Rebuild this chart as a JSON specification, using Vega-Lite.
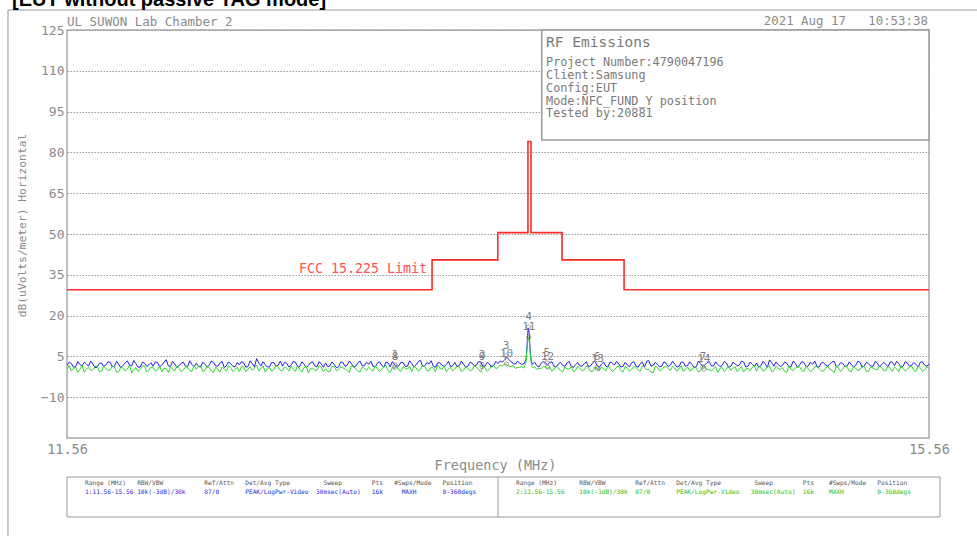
{
  "$schema": "https://vega.github.io/schema/vega-lite/v6.json",
  "width": 862,
  "height": 408,
  "autosize": {"type": "none"},
  "padding": {"left": 67, "top": 30, "right": 48, "bottom": 98},
  "background": "white",
  "title": {"text": "[EUT without passive TAG mode]", "anchor": "start", "frame": "group", "offset": 0, "dx": -55, "fontSize": 20, "font": "Liberation Sans", "fontWeight": "bold", "color": "#000000"},
  "config": {"view": {"stroke": "#aaaaaa", "strokeWidth": 1.5}, "font": "DejaVu Sans Mono"},
  "datasets": {
    "trace": [
      {"f":11.56,"b":1.6,"g":0.4},{"f":11.58,"b":2.4,"g":-0.3},{"f":11.60,"b":1.2,"g":1.1},{"f":11.62,"b":2.0,"g":0.2},{"f":11.64,"b":2.8,"g":-0.8},{"f":11.66,"b":1.4,"g":0.9},{"f":11.68,"b":2.2,"g":0.1},{"f":11.70,"b":1.0,"g":1.5},{"f":11.72,"b":2.6,"g":-0.4},{"f":11.74,"b":1.8,"g":0.6},
      {"f":11.76,"b":2.9,"g":0.0},{"f":11.78,"b":1.3,"g":1.2},{"f":11.80,"b":2.1,"g":-0.6},{"f":11.82,"b":1.7,"g":0.7},{"f":11.84,"b":3.4,"g":0.3},{"f":11.86,"b":1.5,"g":-1.0},{"f":11.88,"b":2.3,"g":0.8},{"f":11.90,"b":1.1,"g":0.2},{"f":11.92,"b":2.5,"g":1.4},{"f":11.94,"b":1.9,"g":-0.2},
      {"f":11.96,"b":1.4,"g":0.9},{"f":11.98,"b":2.7,"g":0.1},{"f":12.00,"b":1.8,"g":-0.7},{"f":12.02,"b":3.8,"g":0.5},{"f":12.04,"b":1.2,"g":1.3},{"f":12.06,"b":2.2,"g":-0.3},{"f":12.08,"b":1.6,"g":0.6},{"f":12.10,"b":2.9,"g":0.0},{"f":12.12,"b":1.3,"g":1.0},{"f":12.14,"b":2.0,"g":-0.5},
      {"f":12.16,"b":2.5,"g":0.3},{"f":12.18,"b":1.1,"g":1.6},{"f":12.20,"b":2.1,"g":-0.2},{"f":12.22,"b":1.7,"g":0.8},{"f":12.24,"b":2.8,"g":-0.9},{"f":12.26,"b":1.4,"g":0.4},{"f":12.28,"b":3.1,"g":1.1},{"f":12.30,"b":1.6,"g":-0.4},{"f":12.32,"b":2.2,"g":0.7},{"f":12.34,"b":1.2,"g":0.2},
      {"f":12.36,"b":1.9,"g":-0.6},{"f":12.38,"b":2.6,"g":1.0},{"f":12.40,"b":1.3,"g":0.3},{"f":12.42,"b":2.3,"g":-0.1},{"f":12.44,"b":4.2,"g":1.8},{"f":12.46,"b":1.5,"g":0.5},{"f":12.48,"b":2.0,"g":-0.8},{"f":12.50,"b":1.2,"g":0.9},{"f":12.52,"b":2.7,"g":0.1},{"f":12.54,"b":1.8,"g":1.2},
      {"f":12.56,"b":1.4,"g":-0.3},{"f":12.58,"b":2.4,"g":0.6},{"f":12.60,"b":1.7,"g":1.4},{"f":12.62,"b":2.9,"g":-0.5},{"f":12.64,"b":1.3,"g":0.2},{"f":12.66,"b":2.1,"g":0.9},{"f":12.68,"b":1.6,"g":-1.1},{"f":12.70,"b":3.0,"g":0.7},{"f":12.72,"b":1.2,"g":0.0},{"f":12.74,"b":2.2,"g":1.1},
      {"f":12.76,"b":2.6,"g":0.4},{"f":12.78,"b":1.5,"g":-0.6},{"f":12.80,"b":2.0,"g":1.3},{"f":12.82,"b":1.1,"g":0.1},{"f":12.84,"b":2.8,"g":0.8},{"f":12.86,"b":1.7,"g":-0.2},{"f":12.88,"b":2.3,"g":1.5},{"f":12.90,"b":1.4,"g":0.3},{"f":12.92,"b":3.3,"g":-0.7},{"f":12.94,"b":1.6,"g":0.6},
      {"f":12.96,"b":2.1,"g":1.0},{"f":12.98,"b":1.3,"g":-0.4},{"f":13.00,"b":2.5,"g":0.5},{"f":13.02,"b":1.8,"g":0.2},{"f":13.04,"b":2.9,"g":1.7},{"f":13.06,"b":1.2,"g":-0.9},{"f":13.08,"b":2.0,"g":0.6},{"f":13.10,"b":1.6,"g":0.0},{"f":13.12,"b":2.7,"g":1.2},{"f":13.14,"b":1.4,"g":0.3},
      {"f":13.16,"b":2.3,"g":-0.5},{"f":13.18,"b":1.9,"g":0.8},{"f":13.20,"b":3.6,"g":0.1},{"f":13.22,"b":1.5,"g":1.4},{"f":13.24,"b":2.2,"g":-0.3},{"f":13.26,"b":1.3,"g":0.7},{"f":13.28,"b":2.6,"g":1.9},{"f":13.30,"b":1.7,"g":0.2},{"f":13.32,"b":2.0,"g":-0.6},{"f":13.34,"b":1.2,"g":0.9},
      {"f":13.36,"b":2.8,"g":0.4},{"f":13.38,"b":1.6,"g":1.3},{"f":13.40,"b":2.1,"g":-0.2},{"f":13.42,"b":1.4,"g":0.6},{"f":13.44,"b":2.5,"g":0.0},{"f":13.46,"b":1.8,"g":1.1},{"f":13.48,"b":3.0,"g":-0.8},{"f":13.50,"b":1.3,"g":0.8},{"f":13.52,"b":2.2,"g":0.3},{"f":13.54,"b":1.7,"g":1.5},
      {"f":13.56,"b":2.4,"g":0.9},{"f":13.58,"b":2.9,"g":1.4},{"f":13.60,"b":4.8,"g":2.0},{"f":13.62,"b":3.0,"g":1.2},{"f":13.64,"b":2.1,"g":0.6},{"f":13.66,"b":2.6,"g":1.0},{"f":13.68,"b":2.3,"g":0.7},{"f":13.69,"b":3.8,"g":2.8},{"f":13.695,"b":9.5,"g":8.0},{"f":13.70,"b":15.5,"g":12.0},{"f":13.705,"b":13.5,"g":11.0},{"f":13.71,"b":6.5,"g":5.5},{"f":13.715,"b":3.0,"g":2.0},{"f":13.72,"b":2.2,"g":0.9},{"f":13.74,"b":1.6,"g":0.2},
      {"f":13.76,"b":2.5,"g":0.5},{"f":13.78,"b":2.6,"g":1.1},{"f":13.80,"b":2.8,"g":1.1},{"f":13.82,"b":1.4,"g":0.2},{"f":13.84,"b":2.2,"g":0.8},{"f":13.86,"b":1.7,"g":-0.7},{"f":13.88,"b":2.6,"g":0.4},{"f":13.90,"b":1.3,"g":1.3},{"f":13.92,"b":2.0,"g":-0.2},{"f":13.94,"b":1.5,"g":0.6},
      {"f":13.96,"b":2.3,"g":0.1},{"f":13.98,"b":1.2,"g":0.9},{"f":14.00,"b":2.7,"g":-0.5},{"f":14.02,"b":1.6,"g":0.7},{"f":14.04,"b":2.1,"g":1.2},{"f":14.06,"b":1.4,"g":-0.3},{"f":14.08,"b":2.9,"g":0.5},{"f":14.10,"b":1.8,"g":0.0},{"f":14.12,"b":2.2,"g":1.4},{"f":14.14,"b":1.3,"g":-0.8},
      {"f":14.16,"b":1.9,"g":0.6},{"f":14.18,"b":2.6,"g":0.2},{"f":14.20,"b":1.5,"g":1.0},{"f":14.22,"b":2.3,"g":-0.4},{"f":14.24,"b":1.1,"g":0.8},{"f":14.26,"b":3.4,"g":0.3},{"f":14.28,"b":1.7,"g":-1.0},{"f":14.30,"b":2.0,"g":0.9},{"f":14.32,"b":1.4,"g":0.1},{"f":14.34,"b":2.5,"g":1.3},
      {"f":14.36,"b":1.8,"g":-0.2},{"f":14.38,"b":2.2,"g":0.7},{"f":14.40,"b":1.3,"g":0.4},{"f":14.42,"b":2.8,"g":-0.6},{"f":14.44,"b":1.6,"g":1.1},{"f":14.46,"b":2.1,"g":0.0},{"f":14.48,"b":1.2,"g":0.8},{"f":14.50,"b":2.4,"g":-0.3},{"f":14.52,"b":1.9,"g":1.5},{"f":14.54,"b":3.1,"g":0.2},
      {"f":14.56,"b":1.5,"g":0.5},{"f":14.58,"b":2.0,"g":-0.9},{"f":14.60,"b":1.7,"g":0.9},{"f":14.62,"b":2.6,"g":0.3},{"f":14.64,"b":1.3,"g":-0.1},{"f":14.66,"b":2.3,"g":1.2},{"f":14.68,"b":1.8,"g":0.4},{"f":14.70,"b":2.9,"g":-0.7},{"f":14.72,"b":1.4,"g":0.6},{"f":14.74,"b":2.1,"g":1.0},
      {"f":14.76,"b":2.5,"g":-0.4},{"f":14.78,"b":1.6,"g":0.8},{"f":14.80,"b":2.2,"g":0.1},{"f":14.82,"b":3.7,"g":1.6},{"f":14.84,"b":1.4,"g":-0.2},{"f":14.86,"b":2.0,"g":0.5},{"f":14.88,"b":1.7,"g":0.9},{"f":14.90,"b":2.5,"g":-0.8},{"f":14.92,"b":1.2,"g":0.3},{"f":14.94,"b":2.3,"g":0.7},
      {"f":14.96,"b":1.9,"g":1.1},{"f":14.98,"b":2.7,"g":-0.5},{"f":15.00,"b":1.5,"g":0.4},{"f":15.02,"b":2.1,"g":0.0},{"f":15.04,"b":1.3,"g":1.3},{"f":15.06,"b":2.6,"g":-0.3},{"f":15.08,"b":1.8,"g":0.6},{"f":15.10,"b":2.2,"g":0.2},{"f":15.12,"b":3.2,"g":-1.0},{"f":15.14,"b":1.6,"g":0.8},
      {"f":15.16,"b":2.4,"g":0.3},{"f":15.18,"b":1.4,"g":1.0},{"f":15.20,"b":2.0,"g":-0.6},{"f":15.22,"b":1.7,"g":0.5},{"f":15.24,"b":2.8,"g":0.1},{"f":15.26,"b":1.5,"g":1.2},{"f":15.28,"b":2.2,"g":-0.4},{"f":15.30,"b":1.3,"g":0.7},{"f":15.32,"b":2.6,"g":0.0},{"f":15.34,"b":1.9,"g":0.9},
      {"f":15.36,"b":2.1,"g":-0.2},{"f":15.38,"b":3.0,"g":0.6},{"f":15.40,"b":1.6,"g":1.1},{"f":15.42,"b":2.3,"g":-0.7},{"f":15.44,"b":1.4,"g":0.4},{"f":15.46,"b":2.5,"g":0.2},{"f":15.48,"b":1.8,"g":1.4},{"f":15.50,"b":2.0,"g":-0.5},{"f":15.52,"b":2.9,"g":0.8},{"f":15.54,"b":1.7,"g":0.1},
      {"f":15.56,"b":2.2,"g":0.5},
      {"f":11.57,"b":2.9,"g":1.6},{"f":11.59,"b":1.0,"g":0.5},{"f":11.61,"b":3.1,"g":-0.9},{"f":11.63,"b":1.5,"g":1.8},{"f":11.65,"b":2.2,"g":0.4},{"f":11.67,"b":3.3,"g":-0.2},{"f":11.69,"b":0.9,"g":1.2},{"f":11.71,"b":2.4,"g":-0.6},{"f":11.73,"b":1.4,"g":1.3},{"f":11.75,"b":3.0,"g":-0.1},
      {"f":11.77,"b":1.2,"g":1.5},{"f":11.79,"b":3.2,"g":-0.8},{"f":11.81,"b":0.8,"g":1.0},{"f":11.83,"b":2.6,"g":-0.4},{"f":11.85,"b":1.8,"g":1.7},{"f":11.87,"b":3.5,"g":0.3},{"f":11.89,"b":1.0,"g":-0.5},{"f":11.91,"b":2.9,"g":1.6},{"f":11.93,"b":1.3,"g":-0.7},{"f":11.95,"b":2.7,"g":1.1},
      {"f":11.97,"b":3.0,"g":-0.4},{"f":11.99,"b":1.1,"g":1.4},{"f":12.01,"b":2.8,"g":0.6},{"f":12.03,"b":1.6,"g":-0.9},{"f":12.05,"b":3.2,"g":0.2},{"f":12.07,"b":0.9,"g":1.5},{"f":12.09,"b":2.5,"g":-0.6},{"f":12.11,"b":1.4,"g":1.2},{"f":12.13,"b":3.4,"g":-0.3},{"f":12.15,"b":1.2,"g":1.7},
      {"f":12.17,"b":1.3,"g":1.2},{"f":12.19,"b":2.9,"g":-0.5},{"f":12.21,"b":1.0,"g":1.5},{"f":12.23,"b":3.3,"g":-0.3},{"f":12.25,"b":1.5,"g":1.0},{"f":12.27,"b":2.6,"g":-0.8},{"f":12.29,"b":0.9,"g":0.3},{"f":12.31,"b":3.0,"g":1.6},{"f":12.33,"b":1.4,"g":-0.6},{"f":12.35,"b":2.8,"g":1.0},
      {"f":12.37,"b":3.1,"g":1.4},{"f":12.39,"b":1.0,"g":-0.7},{"f":12.41,"b":3.4,"g":1.2},{"f":12.43,"b":1.2,"g":0.8},{"f":12.45,"b":2.5,"g":-0.4},{"f":12.47,"b":3.0,"g":1.5},{"f":12.49,"b":1.1,"g":0.4},{"f":12.51,"b":2.8,"g":-0.5},{"f":12.53,"b":1.5,"g":1.7},{"f":12.55,"b":3.3,"g":-0.2},
      {"f":12.57,"b":2.8,"g":1.1},{"f":12.59,"b":1.1,"g":-0.4},{"f":12.61,"b":3.2,"g":0.3},{"f":12.63,"b":1.3,"g":1.6},{"f":12.65,"b":3.0,"g":-0.7},{"f":12.67,"b":0.9,"g":1.3},{"f":12.69,"b":2.7,"g":0.5},{"f":12.71,"b":1.5,"g":-0.2},{"f":12.73,"b":3.1,"g":1.5},{"f":12.75,"b":1.0,"g":-0.6},
      {"f":12.77,"b":1.2,"g":-0.5},{"f":12.79,"b":3.0,"g":1.4},{"f":12.81,"b":0.9,"g":-0.3},{"f":12.83,"b":2.9,"g":1.2},{"f":12.85,"b":1.4,"g":0.4},{"f":12.87,"b":3.3,"g":-0.8},{"f":12.89,"b":1.0,"g":1.6},{"f":12.91,"b":2.7,"g":-0.4},{"f":12.93,"b":1.5,"g":1.1},{"f":12.95,"b":2.9,"g":-0.1},
      {"f":12.97,"b":3.2,"g":0.3},{"f":12.99,"b":1.1,"g":1.5},{"f":13.01,"b":3.0,"g":-0.6},{"f":13.03,"b":1.0,"g":1.3},{"f":13.05,"b":2.6,"g":-0.2},{"f":13.07,"b":3.1,"g":0.9},{"f":13.09,"b":1.2,"g":1.7},{"f":13.11,"b":2.9,"g":-0.5},{"f":13.13,"b":1.3,"g":0.6},{"f":13.15,"b":3.4,"g":1.4},
      {"f":13.17,"b":1.1,"g":1.3},{"f":13.19,"b":3.1,"g":-0.4},{"f":13.21,"b":1.4,"g":1.6},{"f":13.23,"b":2.8,"g":-0.2},{"f":13.25,"b":3.4,"g":1.1},{"f":13.27,"b":1.0,"g":-0.7},{"f":13.29,"b":2.7,"g":0.8},{"f":13.31,"b":1.3,"g":1.5},{"f":13.33,"b":3.2,"g":0.4},{"f":13.35,"b":1.6,"g":-0.3},
      {"f":13.37,"b":1.2,"g":1.5},{"f":13.39,"b":3.3,"g":-0.5},{"f":13.41,"b":1.0,"g":1.2},{"f":13.43,"b":2.9,"g":-0.3},{"f":13.45,"b":1.5,"g":1.6},{"f":13.47,"b":3.1,"g":0.2},{"f":13.49,"b":1.3,"g":1.4},{"f":13.51,"b":2.8,"g":-0.4},{"f":13.53,"b":1.1,"g":1.7},{"f":13.55,"b":3.2,"g":0.5},
      {"f":13.57,"b":3.3,"g":1.8},{"f":13.59,"b":3.6,"g":2.3},{"f":13.61,"b":3.9,"g":1.5},{"f":13.63,"b":2.5,"g":1.7},{"f":13.65,"b":3.2,"g":0.9},{"f":13.67,"b":2.0,"g":1.3},{"f":13.73,"b":2.9,"g":1.2},{"f":13.75,"b":1.1,"g":0.6},
      {"f":13.77,"b":3.1,"g":1.3},{"f":13.79,"b":1.9,"g":0.6},{"f":13.81,"b":3.0,"g":-0.4},{"f":13.83,"b":1.1,"g":1.5},{"f":13.85,"b":2.8,"g":-0.2},{"f":13.87,"b":1.3,"g":1.1},{"f":13.89,"b":3.2,"g":0.3},{"f":13.91,"b":1.0,"g":-0.6},{"f":13.93,"b":2.7,"g":1.4},{"f":13.95,"b":1.4,"g":-0.3},
      {"f":13.97,"b":3.0,"g":1.4},{"f":13.99,"b":1.5,"g":-0.6},{"f":14.01,"b":3.3,"g":1.2},{"f":14.03,"b":1.0,"g":-0.3},{"f":14.05,"b":2.9,"g":0.4},{"f":14.07,"b":1.2,"g":1.6},{"f":14.09,"b":2.6,"g":-0.5},{"f":14.11,"b":3.2,"g":1.0},{"f":14.13,"b":1.1,"g":-0.2},{"f":14.15,"b":2.8,"g":1.3},
      {"f":14.17,"b":1.2,"g":-0.5},{"f":14.19,"b":3.1,"g":1.3},{"f":14.21,"b":1.0,"g":-0.1},{"f":14.23,"b":2.9,"g":1.5},{"f":14.25,"b":3.3,"g":0.2},{"f":14.27,"b":1.4,"g":-0.8},{"f":14.29,"b":2.8,"g":1.4},{"f":14.31,"b":1.1,"g":-0.3},{"f":14.33,"b":3.0,"g":1.1},{"f":14.35,"b":1.3,"g":0.6},
      {"f":14.37,"b":3.2,"g":1.4},{"f":14.39,"b":1.1,"g":-0.5},{"f":14.41,"b":2.9,"g":1.6},{"f":14.43,"b":1.4,"g":0.3},{"f":14.45,"b":3.0,"g":-0.4},{"f":14.47,"b":0.9,"g":1.2},{"f":14.49,"b":3.3,"g":-0.7},{"f":14.51,"b":1.2,"g":1.3},{"f":14.53,"b":2.7,"g":0.1},{"f":14.55,"b":1.5,"g":-0.4},
      {"f":14.57,"b":3.0,"g":1.2},{"f":14.59,"b":1.2,"g":0.6},{"f":14.61,"b":3.1,"g":-0.5},{"f":14.63,"b":1.0,"g":1.5},{"f":14.65,"b":2.8,"g":0.7},{"f":14.67,"b":1.5,"g":-0.6},{"f":14.69,"b":3.3,"g":1.3},{"f":14.71,"b":1.1,"g":0.4},{"f":14.73,"b":2.9,"g":-0.3},{"f":14.75,"b":1.3,"g":1.6},
      {"f":14.77,"b":1.1,"g":1.3},{"f":14.79,"b":3.2,"g":-0.4},{"f":14.81,"b":1.0,"g":1.2},{"f":14.83,"b":2.7,"g":-0.6},{"f":14.85,"b":3.0,"g":1.4},{"f":14.87,"b":1.3,"g":0.2},{"f":14.89,"b":2.9,"g":-0.5},{"f":14.91,"b":1.2,"g":1.5},{"f":14.93,"b":3.3,"g":-0.2},{"f":14.95,"b":1.0,"g":1.2},
      {"f":14.97,"b":3.1,"g":-0.3},{"f":14.99,"b":1.2,"g":1.5},{"f":15.01,"b":2.9,"g":-0.6},{"f":15.03,"b":3.3,"g":1.2},{"f":15.05,"b":1.0,"g":0.5},{"f":15.07,"b":2.8,"g":-0.4},{"f":15.09,"b":1.4,"g":1.6},{"f":15.11,"b":3.0,"g":-0.1},{"f":15.13,"b":1.1,"g":1.3},{"f":15.15,"b":2.7,"g":-0.5},
      {"f":15.17,"b":1.3,"g":1.5},{"f":15.19,"b":3.0,"g":-0.4},{"f":15.21,"b":1.1,"g":1.3},{"f":15.23,"b":3.2,"g":-0.2},{"f":15.25,"b":1.0,"g":1.6},{"f":15.27,"b":2.9,"g":-0.6},{"f":15.29,"b":1.5,"g":1.2},{"f":15.31,"b":3.1,"g":0.3},{"f":15.33,"b":1.2,"g":1.4},{"f":15.35,"b":2.8,"g":-0.3},
      {"f":15.37,"b":1.2,"g":1.3},{"f":15.39,"b":2.9,"g":-0.5},{"f":15.41,"b":3.2,"g":0.4},{"f":15.43,"b":1.0,"g":1.6},{"f":15.45,"b":3.1,"g":-0.3},{"f":15.47,"b":1.3,"g":1.2},{"f":15.49,"b":2.8,"g":-0.2},{"f":15.51,"b":1.1,"g":1.5},{"f":15.53,"b":3.0,"g":-0.6},{"f":15.55,"b":1.4,"g":1.2}
    ],
    "limit": [
      {"f":11.56,"v":29.5},{"f":13.254,"v":40.5},{"f":13.559,"v":50.5},{"f":13.699,"v":84},{"f":13.713,"v":50.5},{"f":13.857,"v":40.5},{"f":14.145,"v":29.5},{"f":15.56,"v":29.5}
    ],
    "markers": [
      {"n":"1","f":13.082,"v":1.8},{"n":"2","f":13.486,"v":2.0},{"n":"3","f":13.597,"v":5.2},{"n":"4","f":13.702,"v":15.8},{"n":"5","f":13.787,"v":2.6},{"n":"6","f":14.02,"v":1.0},{"n":"7","f":14.51,"v":1.2},
      {"n":"8","f":13.082,"v":1.0},{"n":"9","f":13.486,"v":1.2},{"n":"10","f":13.6,"v":2.2},{"n":"11","f":13.703,"v":12.1},{"n":"12","f":13.79,"v":1.1},{"n":"13","f":14.022,"v":0.4},{"n":"14","f":14.515,"v":0.3}
    ]
  },
  "layer": [
    {
      "data": {"name": "trace"},
      "transform": [{"fold": ["b", "g"], "as": ["trace", "level"]}],
      "mark": {"type": "line", "strokeWidth": 1, "clip": true},
      "encoding": {
        "x": {"field": "f", "type": "quantitative", "scale": {"domain": [11.56, 15.56], "nice": false, "zero": false},
          "axis": {"values": [11.56, 15.56], "format": ".2f", "labelFlush": false, "labelOverlap": false, "grid": false, "domain": false, "ticks": false, "labelPadding": 4, "labelFont": "DejaVu Sans Mono", "labelFontSize": 13.5, "labelColor": "#8a8a8a", "title": "Frequency (MHz)", "titleFont": "DejaVu Sans Mono", "titleFontSize": 13.5, "titleFontWeight": "normal", "titleColor": "#8a8a8a", "titleX": 428, "titleY": 27, "titleBaseline": "middle", "titleAlign": "center"}},
        "y": {"field": "level", "type": "quantitative", "scale": {"domain": [-25, 125], "nice": false, "zero": false},
          "axis": {"values": [125, 110, 95, 80, 65, 50, 35, 20, 5, -10], "grid": true, "gridColor": "#9a9a9a", "gridDash": [1.5, 1.5], "gridWidth": 1, "domain": false, "ticks": false, "labelPadding": 3, "labelFont": "DejaVu Sans Mono", "labelFontSize": 13, "labelColor": "#8a8a8a", "title": "dB(uVolts/meter) Horizontal", "titleFont": "DejaVu Sans Mono", "titleFontSize": 11.3, "titleFontWeight": "normal", "titleColor": "#8a8a8a", "titleX": -45, "titleY": 195, "titleAngle": -90, "titleBaseline": "middle", "titleAlign": "center"}},
        "color": {"field": "trace", "type": "nominal", "scale": {"domain": ["b", "g"], "range": ["#1f1fe6", "#2bd92b"]}, "legend": null}
      }
    },
    {
      "data": {"values": [{}]},
      "mark": {"type": "rect", "fill": null, "stroke": "#999999", "strokeWidth": 1, "clip": false},
      "encoding": {"x": {"datum": 11.2862, "type": "quantitative"}, "x2": {"datum": 16.3}, "y": {"datum": 132.35, "type": "quantitative"}, "y2": {"datum": -80}}
    },
    {
      "data": {"values": [{}]},
      "mark": {"type": "rect", "fill": "white", "stroke": "#999999", "strokeWidth": 1.5, "clip": false},
      "encoding": {"x": {"datum": 13.763, "type": "quantitative"}, "x2": {"datum": 15.56}, "y": {"datum": 125, "type": "quantitative"}, "y2": {"datum": 84.6}}
    },
    {
      "data": {"name": "limit"},
      "mark": {"type": "line", "interpolate": "step-after", "color": "#ff2a2a", "strokeWidth": 1.6},
      "encoding": {"x": {"field": "f", "type": "quantitative"}, "y": {"field": "v", "type": "quantitative"}}
    },
    {
      "data": {"name": "markers"},
      "mark": {"type": "point", "shape": "circle", "filled": false, "size": 18, "stroke": "#808080", "strokeWidth": 1},
      "encoding": {"x": {"field": "f", "type": "quantitative"}, "y": {"field": "v", "type": "quantitative"}}
    },
    {
      "data": {"name": "markers"},
      "mark": {"type": "text", "dy": -10, "fontSize": 11, "color": "#808080", "baseline": "middle", "align": "center"},
      "encoding": {"x": {"field": "f", "type": "quantitative"}, "y": {"field": "v", "type": "quantitative"}, "text": {"field": "n"}}
    },
    {
      "data": {"values": [{}]},
      "mark": {"type": "text", "align": "right", "baseline": "alphabetic", "fontSize": 13.3, "color": "#ff5050", "clip": false},
      "encoding": {"x": {"datum": 13.231, "type": "quantitative"}, "y": {"datum": 35.7, "type": "quantitative"}, "text": {"value": "FCC 15.225 Limit"}}
    },
    {
      "data": {"values": [{}]},
      "mark": {"type": "text", "align": "left", "baseline": "alphabetic", "fontSize": 12.5, "color": "#8a8a8a", "clip": false},
      "encoding": {"x": {"datum": 11.56, "type": "quantitative"}, "y": {"datum": 126.65, "type": "quantitative"}, "text": {"value": "UL SUWON Lab Chamber 2"}}
    },
    {
      "data": {"values": [{}]},
      "mark": {"type": "text", "align": "right", "baseline": "alphabetic", "fontSize": 12.4, "color": "#8a8a8a", "clip": false},
      "encoding": {"x": {"datum": 15.555, "type": "quantitative"}, "y": {"datum": 126.8, "type": "quantitative"}, "text": {"value": "2021 Aug 17\u00a0\u00a0\u00a010:53:38"}}
    },
    {
      "data": {"values": [{}]},
      "mark": {"type": "text", "align": "left", "baseline": "alphabetic", "fontSize": 14.5, "color": "#7a7a7a", "clip": false},
      "encoding": {"x": {"datum": 13.783, "type": "quantitative"}, "y": {"datum": 118.64, "type": "quantitative"}, "text": {"value": "RF Emissions"}}
    },
    {
      "data": {"values": [{}]},
      "mark": {"type": "text", "align": "left", "baseline": "alphabetic", "fontSize": 11.8, "lineHeight": 12.8, "color": "#7a7a7a", "clip": false},
      "encoding": {"x": {"datum": 13.783, "type": "quantitative"}, "y": {"datum": 111.65, "type": "quantitative"}, "text": {"value": ["Project Number:4790047196", "Client:Samsung", "Config:EUT", "Mode:NFC_FUND_Y position", "Tested by:20881"]}}
    },
    {
      "data": {"values": [{}]},
      "mark": {"type": "rect", "fill": null, "stroke": "#999999", "strokeWidth": 1, "clip": false},
      "encoding": {"x": {"datum": 11.56, "type": "quantitative"}, "x2": {"datum": 15.611}, "y": {"datum": -39.34, "type": "quantitative"}, "y2": {"datum": -54.04}}
    },
    {
      "data": {"values": [{}]},
      "mark": {"type": "rule", "stroke": "#999999", "strokeWidth": 1, "clip": false},
      "encoding": {"x": {"datum": 13.56, "type": "quantitative"}, "y": {"datum": -39.34, "type": "quantitative"}, "y2": {"datum": -54.04}}
    },
    {
      "data": {"values": [{}]},
      "mark": {"type": "text", "align": "left", "baseline": "middle", "fontSize": 6.2, "color": "#555555", "clip": false},
      "encoding": {"x": {"datum": 11.6435, "type": "quantitative"}, "y": {"datum": -41.54, "type": "quantitative"}, "text": {"value": "Range (MHz)\u00a0\u00a0\u00a0RBW/VBW\u00a0\u00a0\u00a0\u00a0\u00a0\u00a0\u00a0\u00a0\u00a0\u00a0\u00a0Ref/Attn\u00a0\u00a0\u00a0Det/Avg Type\u00a0\u00a0\u00a0\u00a0\u00a0\u00a0\u00a0\u00a0\u00a0Sweep\u00a0\u00a0\u00a0\u00a0\u00a0\u00a0\u00a0\u00a0Pts\u00a0\u00a0\u00a0#Swps/Mode\u00a0\u00a0\u00a0Position"}}
    },
    {
      "data": {"values": [{}]},
      "mark": {"type": "text", "align": "left", "baseline": "middle", "fontSize": 6.2, "color": "#2a2ae0", "clip": false},
      "encoding": {"x": {"datum": 11.6435, "type": "quantitative"}, "y": {"datum": -44.85, "type": "quantitative"}, "text": {"value": "1:11.56-15.56\u00a010k(-3dB)/30k\u00a0\u00a0\u00a0\u00a0\u00a087/0\u00a0\u00a0\u00a0\u00a0\u00a0\u00a0\u00a0PEAK/LogPwr-Video\u00a0\u00a030msec(Auto)\u00a0\u00a0\u00a016k\u00a0\u00a0\u00a0\u00a0\u00a0MAXH\u00a0\u00a0\u00a0\u00a0\u00a0\u00a0\u00a00-360degs"}}
    },
    {
      "data": {"values": [{}]},
      "mark": {"type": "text", "align": "left", "baseline": "middle", "fontSize": 6.2, "color": "#555555", "clip": false},
      "encoding": {"x": {"datum": 13.6435, "type": "quantitative"}, "y": {"datum": -41.54, "type": "quantitative"}, "text": {"value": "Range (MHz)\u00a0\u00a0\u00a0\u00a0\u00a0\u00a0RBW/VBW\u00a0\u00a0\u00a0\u00a0\u00a0\u00a0\u00a0\u00a0Ref/Attn\u00a0\u00a0\u00a0Det/Avg Type\u00a0\u00a0\u00a0\u00a0\u00a0\u00a0\u00a0\u00a0\u00a0Sweep\u00a0\u00a0\u00a0\u00a0\u00a0\u00a0\u00a0\u00a0Pts\u00a0\u00a0\u00a0\u00a0#Swps/Mode\u00a0\u00a0\u00a0Position"}}
    },
    {
      "data": {"values": [{}]},
      "mark": {"type": "text", "align": "left", "baseline": "middle", "fontSize": 6.2, "color": "#22c022", "clip": false},
      "encoding": {"x": {"datum": 13.6435, "type": "quantitative"}, "y": {"datum": -44.85, "type": "quantitative"}, "text": {"value": "2:11.56-15.56\u00a0\u00a0\u00a0\u00a010k(-3dB)/30k\u00a0\u00a087/0\u00a0\u00a0\u00a0\u00a0\u00a0\u00a0\u00a0PEAK/LogPwr-Video\u00a0\u00a0\u00a030msec(Auto)\u00a0\u00a016k\u00a0\u00a0\u00a0\u00a0MAXH\u00a0\u00a0\u00a0\u00a0\u00a0\u00a0\u00a0\u00a0\u00a00-360degs"}}
    }
  ]
}
